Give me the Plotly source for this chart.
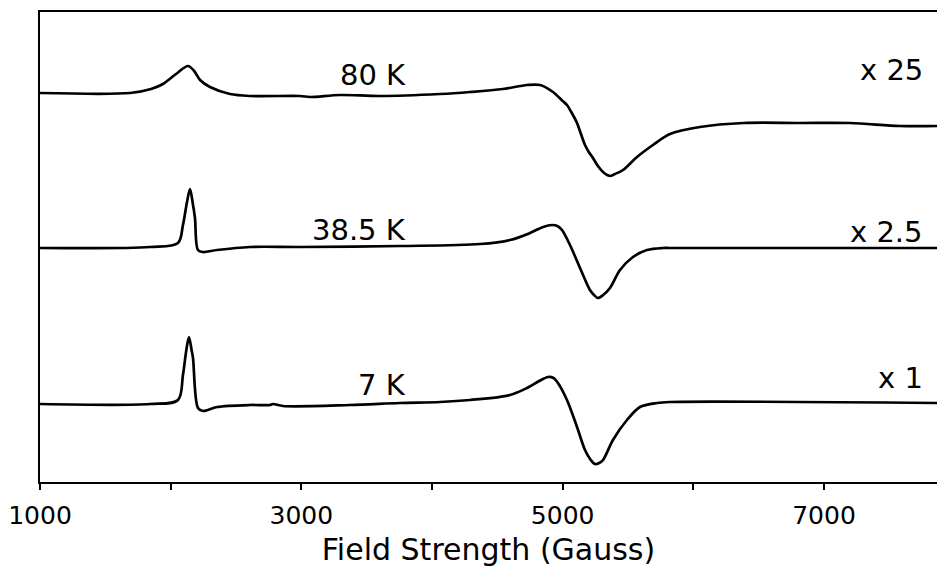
import plotly.graph_objects as go

# Field strength (Gauss) and intensity (arbitrary units, with vertical offsets) for each spectrum
field_80K = [1000, 1689, 1850, 1941, 2041, 2133, 2180, 2225, 2301, 2454, 2607, 2990, 3066, 3296,
             3602, 4061, 4291, 4543, 4727, 4827, 4926, 5000, 5033, 5070, 5110, 5140, 5171, 5200,
             5232, 5270, 5309, 5340, 5362, 5400, 5462, 5569, 5691, 5821, 6051, 6388, 6816, 7199,
             7582, 7865]
signal_80K = [389, 389, 393, 398, 408, 416, 411, 402, 395, 388, 386, 386, 385, 387,
              386, 388, 390, 393, 397, 397, 390, 381, 377, 369, 359, 348, 337, 330,
              324, 316, 310, 307, 306, 308, 312, 325, 337, 348, 355, 359, 359, 359,
              356, 356]

field_38K = [1000, 1842, 2056, 2094, 2125, 2148, 2170, 2186, 2209, 2247, 2355, 2607, 2990, 3755,
             4367, 4597, 4750, 4850, 4918, 4960, 4995, 5056, 5133, 5209, 5240, 5270, 5310, 5362,
             5439, 5538, 5645, 5768, 5821, 7865]
signal_38K = [234, 235, 239, 257, 280, 293, 278, 264, 232, 230, 232, 235, 235, 236,
              238, 242, 249, 255, 257, 256, 252, 237, 214, 192, 187, 184, 187, 194,
              212, 225, 232, 234, 234, 234]

field_7K = [1000, 1842, 2056, 2094, 2120, 2140, 2160, 2171, 2209, 2247, 2355, 2607, 2760, 2783,
            2860, 3372, 3755, 4061, 4291, 4597, 4727, 4820, 4888, 4930, 4964, 5033, 5110, 5171,
            5215, 5247, 5280, 5309, 5385, 5492, 5592, 5722, 5821, 7865]
signal_7K = [78, 78, 82, 107, 132, 145, 132, 124, 74, 71, 75, 77, 77, 78,
             76, 77, 79, 80, 82, 87, 94, 101, 105, 104, 99, 82, 55, 32,
             22, 18, 19, 22, 42, 62, 75, 79, 80, 79]

temp_labels = ["80 K", "38.5 K", "7 K"]
scale_labels = ["x 25", "x 2.5", "x 1"]
tick_values = [1000, 2000, 3000, 4000, 5000, 6000, 7000]
tick_texts = ["1000", "", "3000", "", "5000", "", "7000"]

FONT = "DejaVu Sans"

fig = go.Figure()
for fx, sy in [(field_80K, signal_80K), (field_38K, signal_38K), (field_7K, signal_7K)]:
    fig.add_trace(go.Scatter(x=fx, y=sy, mode="lines",
                             line=dict(color="black", width=2.7, shape="spline", smoothing=0.9),
                             showlegend=False, hoverinfo="skip"))

temp_y = [407, 252, 97]
scale_y = [412, 250, 104]
for lab, yy in zip(temp_labels, temp_y):
    fig.add_annotation(x=3816, y=yy, text=lab, showarrow=False, xanchor="right", yanchor="middle",
                       font=dict(family=FONT, size=29, color="black"))
for lab, yy in zip(scale_labels, scale_y):
    fig.add_annotation(x=7773, y=yy, text=lab, showarrow=False, xanchor="right", yanchor="middle",
                       font=dict(family=FONT, size=29, color="black"))

fig.update_layout(
    width=937, height=570,
    margin=dict(l=40, r=0, t=12, b=88),
    paper_bgcolor="white", plot_bgcolor="white",
    font=dict(family=FONT, color="black"),
    xaxis=dict(range=[1000, 7865], tickvals=tick_values, ticktext=tick_texts,
               ticks="outside", ticklen=6, tickwidth=2, tickcolor="black",
               showline=True, linecolor="black", linewidth=2, mirror=True,
               showgrid=False, zeroline=False, ticklabelstandoff=4,
               tickfont=dict(family=FONT, size=25, color="black"),
               title=dict(text="Field Strength (Gauss)", standoff=10,
                          font=dict(family=FONT, size=30, color="black"))),
    yaxis=dict(range=[0, 470], showline=True, linecolor="black", linewidth=2,
               showticklabels=False, ticks="", showgrid=False, zeroline=False),
)

fig.write_html("out.html")
